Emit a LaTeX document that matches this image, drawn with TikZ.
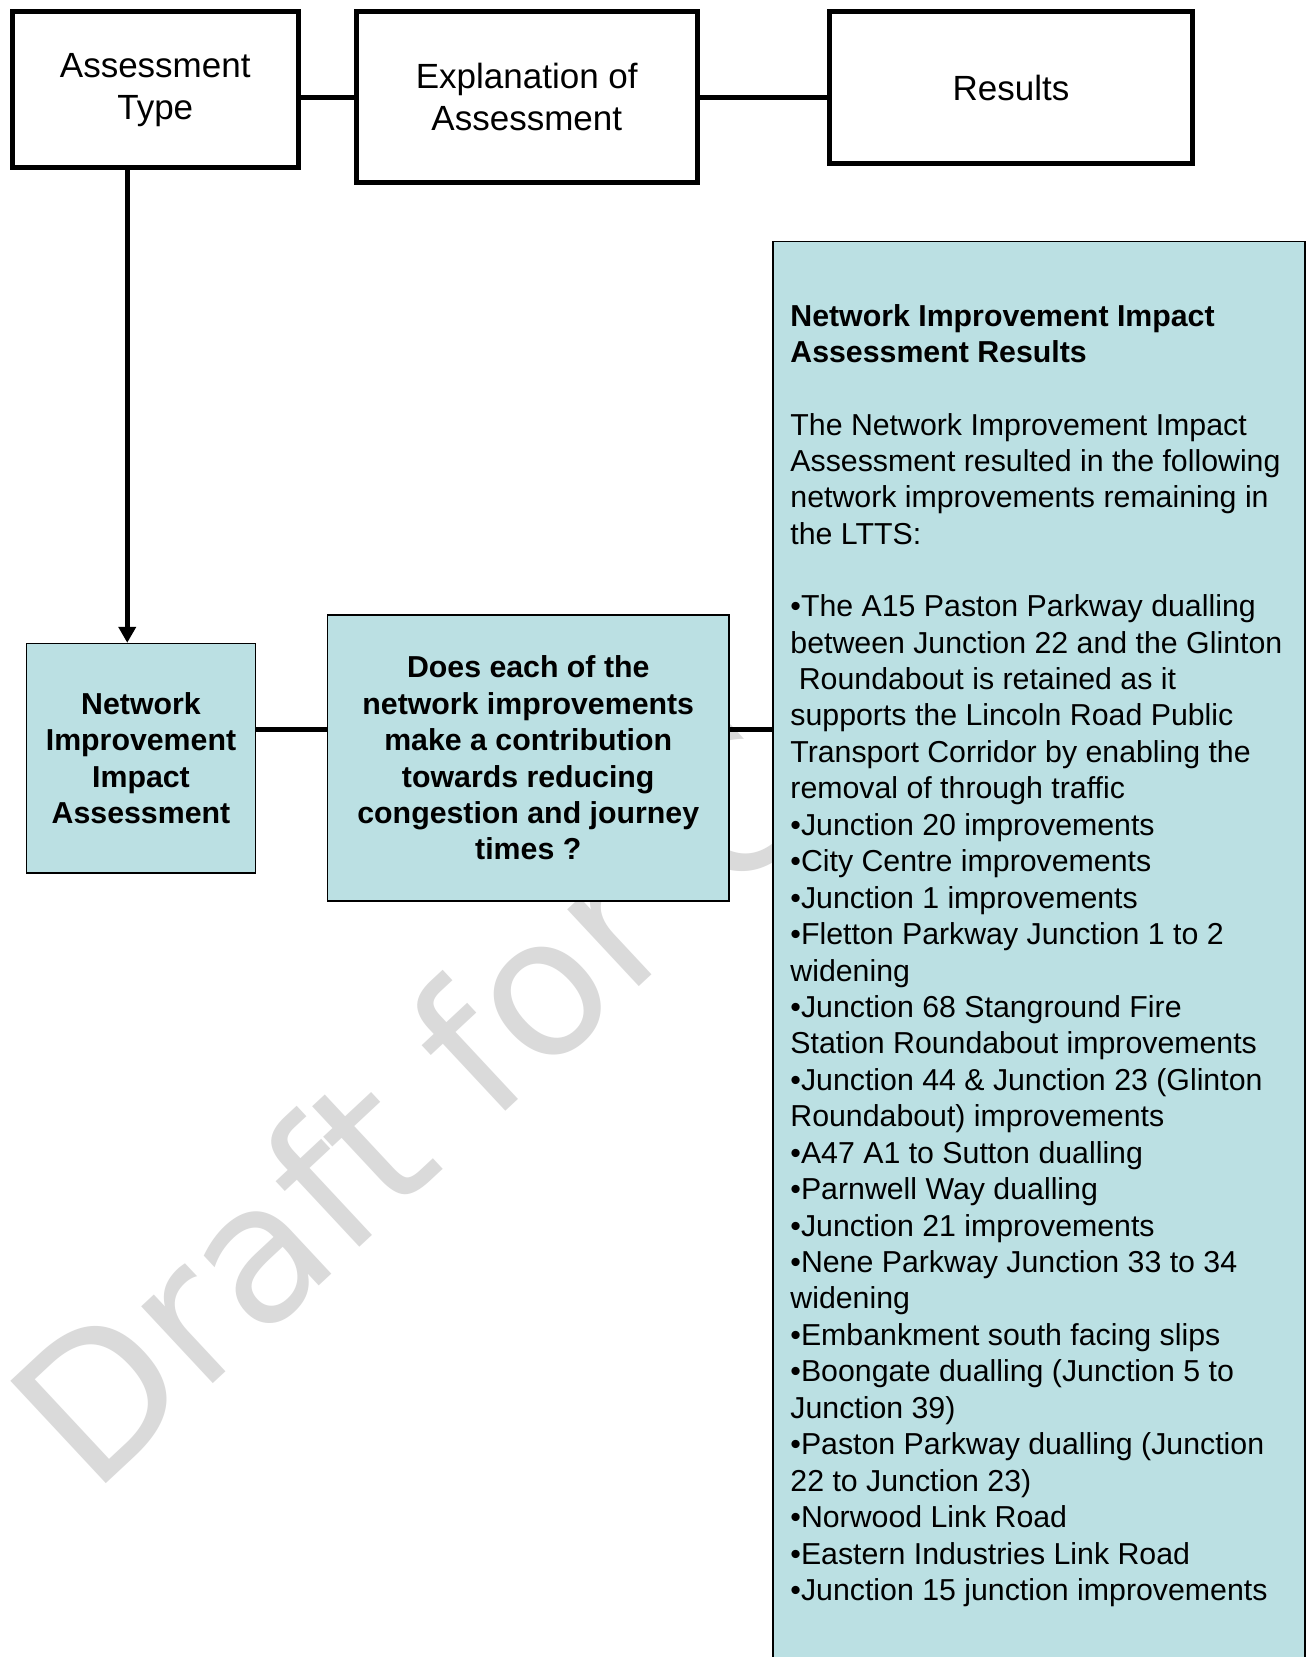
\documentclass[tikz,border=0pt]{standalone}
\usepackage{fontspec}
\setmainfont{Liberation Sans}
\newfontfamily\markfont{DejaVu Sans}
\usetikzlibrary{arrows.meta,calc}
\definecolor{boxblue}{HTML}{BBE0E3}
\definecolor{markgray}{HTML}{DADADA}
\newcommand{\headsize}{\fontsize{17.5pt}{21pt}\selectfont}
\newcommand{\bodysize}{\fontsize{15.15pt}{18.22pt}\selectfont}
\tikzset{
  headbox/.style={draw,line width=2.5pt,align=center,font=\headsize,inner sep=0pt},
  bluebox/.style={draw,line width=0.75pt,fill=boxblue,align=center,font=\bodysize\bfseries,inner sep=0pt},
  link/.style={line width=2.5pt},
}
\begin{document}
\begin{tikzpicture}[x=0.5pt,y=-0.5pt,>={Triangle[width=8.5pt,length=8pt]}]
\clip (0,0) rectangle (1308,1657);
\fill[white] (0,0) rectangle (1308,1657);
\begin{scope}
\clip (0,0) rectangle (772,1657);
\node[font=\markfont\fontsize{96pt}{96pt}\selectfont,text=markgray,rotate=43,anchor=base west,inner sep=0pt] (draftmark) at (92,1497) {Draft for C};
\end{scope}
\node[headbox,minimum width=143.25pt,minimum height=77.75pt] (assess) at (155.25,89.75) {Assessment\\Type};
\node[headbox,minimum width=170.25pt,minimum height=85.25pt] (explain) at (526.75,97.25) {Explanation of\\Assessment};
\node[headbox,minimum width=181.5pt,minimum height=75.75pt] (results) at (1011,87.75) {Results};
\node[bluebox,minimum width=114.65pt,minimum height=114.65pt] (niia) at (141,758.2) {Network\\Improvement\\Impact\\Assessment};
\node[bluebox,minimum width=200.75pt,minimum height=143pt] (question) at (528.25,758) {Does each of the\\network improvements\\make a contribution\\towards reducing\\congestion and journey\\times ?};
\node[draw,line width=0.75pt,fill=boxblue,anchor=north west,minimum width=265.8pt,minimum height=750pt] (listbox) at (772.4,241) {};
\node[font=\bodysize,align=left,anchor=north west,inner sep=0pt] (listtext) at (790,304) {\textbf{Network Improvement Impact}\\
\textbf{Assessment Results}\\[17.9pt]
The Network Improvement Impact\\
Assessment resulted in the following\\
network improvements remaining in\\
the LTTS:\\[17.9pt]
•The A15 Paston Parkway dualling\\
between Junction 22 and the Glinton\\
\ Roundabout is retained as it\\
supports the Lincoln Road Public\\
Transport Corridor by enabling the\\
removal of through traffic\\
•Junction 20 improvements\\
•City Centre improvements\\
•Junction 1 improvements\\
•Fletton Parkway Junction 1 to 2\\
widening\\
•Junction 68 Stanground Fire\\
Station Roundabout improvements\\
•Junction 44 \& Junction 23 (Glinton\\
Roundabout) improvements\\
•A47 A1 to Sutton dualling\\
•Parnwell Way dualling\\
•Junction 21 improvements\\
•Nene Parkway Junction 33 to 34\\
widening\\
•Embankment south facing slips\\
•Boongate dualling (Junction 5 to\\
Junction 39)\\
•Paston Parkway dualling (Junction\\
22 to Junction 23)\\
•Norwood Link Road\\
•Eastern Industries Link Road\\
•Junction 15 junction improvements};
\draw[link] (assess.east |- explain.west) -- (explain.west);
\draw[link] (explain.east) -- (explain.east -| results.west);
\draw[link,->] ([xshift=-14pt]assess.south) -- ([xshift=-14pt]assess.south |- niia.north);
\draw[link] ([yshift=14.5pt]niia.east) -- ([yshift=14.5pt]niia.east -| question.west);
\draw[link] ([yshift=14.5pt]question.east) -- ([yshift=14.5pt]question.east -| listbox.west);
\end{tikzpicture}
\end{document}
